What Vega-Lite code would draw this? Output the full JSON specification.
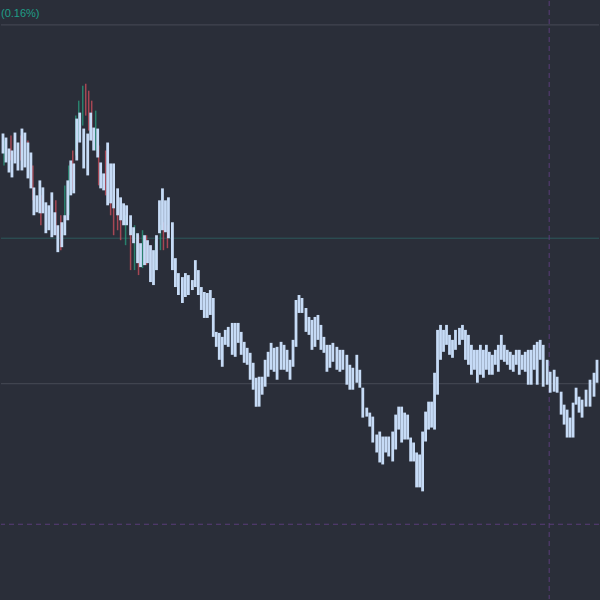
{
  "$schema": "https://vega.github.io/schema/vega-lite/v6.json",
  "autosize": {"type": "fit", "contains": "padding"},
  "width": 600,
  "height": 600,
  "padding": 0,
  "background": "#2a2e39",
  "config": {"view": {"stroke": null}, "axis": {"disable": true}},
  "datasets": {
    "bars": [
      {"t":2,"hi":133,"lo":153},{"t":5,"hi":137,"lo":162},{"t":8,"hi":148,"lo":172},{"t":11,"hi":150,"lo":177},{"t":14,"hi":132,"lo":163},{"t":17,"hi":142,"lo":170},{"t":21,"hi":128,"lo":170},{"t":24,"hi":132,"lo":167},{"t":27,"hi":142,"lo":178},{"t":30,"hi":152,"lo":188},
      {"t":33,"hi":187,"lo":215},{"t":36,"hi":195,"lo":212},{"t":39,"hi":180,"lo":213},{"t":42,"hi":187,"lo":213},{"t":45,"hi":202,"lo":233},{"t":48,"hi":205,"lo":230},{"t":51,"hi":192,"lo":237},{"t":54,"hi":212,"lo":235},{"t":57,"hi":225,"lo":252},{"t":61,"hi":222,"lo":247},
      {"t":64,"hi":215,"lo":235},{"t":67,"hi":180,"lo":220},{"t":70,"hi":160,"lo":195},{"t":73,"hi":163,"lo":193},{"t":76,"hi":118,"lo":160},{"t":79,"hi":112,"lo":142},{"t":83,"hi":128,"lo":168},{"t":87,"hi":133,"lo":175},{"t":90,"hi":112,"lo":140},{"t":93,"hi":127,"lo":150},
      {"t":97,"hi":128,"lo":157},{"t":100,"hi":162,"lo":188},{"t":103,"hi":173,"lo":190},{"t":107,"hi":142,"lo":205},{"t":110,"hi":163,"lo":203},{"t":113,"hi":163,"lo":208},{"t":117,"hi":188,"lo":215},{"t":120,"hi":197,"lo":220},{"t":123,"hi":203,"lo":225},{"t":126,"hi":205,"lo":225},
      {"t":130,"hi":215,"lo":235},{"t":133,"hi":227,"lo":243},{"t":137,"hi":233,"lo":263},{"t":140,"hi":243,"lo":267},{"t":144,"hi":235,"lo":265},{"t":147,"hi":240,"lo":263},{"t":150,"hi":245,"lo":282},{"t":153,"hi":250,"lo":285},{"t":156,"hi":235,"lo":270},{"t":159,"hi":200,"lo":233},
      {"t":162,"hi":188,"lo":230},{"t":165,"hi":200,"lo":232},{"t":168,"hi":197,"lo":238},{"t":172,"hi":222,"lo":270},{"t":175,"hi":258,"lo":287},{"t":178,"hi":273,"lo":295},{"t":182,"hi":277,"lo":303},{"t":185,"hi":273,"lo":297},{"t":188,"hi":275,"lo":295},{"t":192,"hi":280,"lo":290},
      {"t":195,"hi":260,"lo":287},{"t":198,"hi":270,"lo":295},{"t":201,"hi":287,"lo":310},{"t":204,"hi":292,"lo":318},{"t":207,"hi":293,"lo":318},{"t":210,"hi":290,"lo":315},{"t":213,"hi":298,"lo":337},{"t":216,"hi":332,"lo":347},{"t":219,"hi":333,"lo":360},{"t":222,"hi":337,"lo":367},
      {"t":225,"hi":330,"lo":345},{"t":228,"hi":327,"lo":347},{"t":232,"hi":323,"lo":355},{"t":235,"hi":323,"lo":357},{"t":238,"hi":323,"lo":343},{"t":241,"hi":332,"lo":355},{"t":244,"hi":342,"lo":363},{"t":247,"hi":348,"lo":365},{"t":250,"hi":353,"lo":380},{"t":253,"hi":363,"lo":390},
      {"t":256,"hi":378,"lo":407},{"t":259,"hi":377,"lo":407},{"t":262,"hi":377,"lo":395},{"t":265,"hi":360,"lo":387},{"t":268,"hi":352,"lo":377},{"t":271,"hi":343,"lo":370},{"t":274,"hi":348,"lo":372},{"t":277,"hi":347,"lo":380},{"t":281,"hi":342,"lo":370},{"t":284,"hi":345,"lo":370},
      {"t":287,"hi":350,"lo":372},{"t":290,"hi":360,"lo":380},{"t":293,"hi":340,"lo":367},{"t":296,"hi":300,"lo":347},{"t":299,"hi":295,"lo":313},{"t":302,"hi":298,"lo":313},{"t":306,"hi":308,"lo":332},{"t":309,"hi":317,"lo":335},{"t":312,"hi":320,"lo":350},{"t":315,"hi":317,"lo":347},
      {"t":318,"hi":315,"lo":340},{"t":321,"hi":325,"lo":350},{"t":324,"hi":337,"lo":353},{"t":327,"hi":345,"lo":372},{"t":330,"hi":345,"lo":368},{"t":333,"hi":343,"lo":362},{"t":337,"hi":347,"lo":370},{"t":340,"hi":350,"lo":372},{"t":343,"hi":350,"lo":370},{"t":347,"hi":355,"lo":385},
      {"t":350,"hi":365,"lo":390},{"t":353,"hi":368,"lo":390},{"t":357,"hi":355,"lo":383},{"t":360,"hi":370,"lo":388},{"t":363,"hi":388,"lo":418},{"t":367,"hi":408,"lo":417},{"t":370,"hi":413,"lo":427},{"t":373,"hi":417,"lo":443},{"t":377,"hi":435,"lo":453},{"t":380,"hi":432,"lo":463},
      {"t":383,"hi":437,"lo":465},{"t":386,"hi":437,"lo":453},{"t":389,"hi":437,"lo":457},{"t":393,"hi":432,"lo":462},{"t":396,"hi":415,"lo":450},{"t":399,"hi":407,"lo":430},{"t":402,"hi":407,"lo":443},{"t":405,"hi":413,"lo":440},{"t":408,"hi":415,"lo":440},{"t":411,"hi":438,"lo":462},
      {"t":414,"hi":443,"lo":462},{"t":417,"hi":453,"lo":488},{"t":420,"hi":455,"lo":488},{"t":423,"hi":432,"lo":492},{"t":426,"hi":412,"lo":442},{"t":429,"hi":402,"lo":430},{"t":432,"hi":402,"lo":428},{"t":435,"hi":373,"lo":430},{"t":438,"hi":330,"lo":395},{"t":441,"hi":325,"lo":360},
      {"t":444,"hi":330,"lo":352},{"t":447,"hi":325,"lo":345},{"t":450,"hi":335,"lo":355},{"t":453,"hi":340,"lo":358},{"t":456,"hi":330,"lo":350},{"t":460,"hi":328,"lo":345},{"t":463,"hi":325,"lo":340},{"t":466,"hi":330,"lo":360},{"t":469,"hi":335,"lo":365},{"t":472,"hi":345,"lo":375},
      {"t":475,"hi":350,"lo":370},{"t":478,"hi":350,"lo":383},{"t":481,"hi":345,"lo":375},{"t":484,"hi":350,"lo":378},{"t":487,"hi":345,"lo":370},{"t":490,"hi":352,"lo":375},{"t":493,"hi":355,"lo":375},{"t":496,"hi":350,"lo":365},{"t":499,"hi":345,"lo":372},{"t":502,"hi":335,"lo":360},
      {"t":505,"hi":345,"lo":362},{"t":508,"hi":350,"lo":365},{"t":511,"hi":352,"lo":370},{"t":514,"hi":355,"lo":372},{"t":517,"hi":350,"lo":365},{"t":520,"hi":350,"lo":375},{"t":523,"hi":355,"lo":370},{"t":526,"hi":352,"lo":372},{"t":529,"hi":350,"lo":385},{"t":532,"hi":350,"lo":385},
      {"t":535,"hi":345,"lo":370},{"t":538,"hi":342,"lo":385},{"t":541,"hi":340,"lo":360},{"t":544,"hi":345,"lo":387},{"t":548,"hi":360,"lo":385},{"t":551,"hi":372,"lo":393},{"t":555,"hi":370,"lo":392},{"t":558,"hi":377,"lo":393},{"t":562,"hi":392,"lo":415},{"t":565,"hi":405,"lo":425},
      {"t":568,"hi":410,"lo":438},{"t":571,"hi":418,"lo":438},{"t":574,"hi":403,"lo":438},{"t":577,"hi":388,"lo":405},{"t":580,"hi":397,"lo":413},{"t":583,"hi":400,"lo":418},{"t":587,"hi":390,"lo":407},{"t":591,"hi":380,"lo":407},{"t":595,"hi":373,"lo":397},{"t":598,"hi":360,"lo":383}
    ],
    "candles": [
      {"t":3,"hi":140,"lo":165,"dir":"up"},{"t":10,"hi":135,"lo":160,"dir":"down"},{"t":20,"hi":135,"lo":160,"dir":"down"},{"t":27,"hi":140,"lo":175,"dir":"down"},{"t":32,"hi":165,"lo":200,"dir":"down"},
      {"t":40,"hi":195,"lo":225,"dir":"down"},{"t":55,"hi":200,"lo":235,"dir":"down"},{"t":60,"hi":215,"lo":250,"dir":"down"},{"t":64,"hi":185,"lo":235,"dir":"up"},{"t":68,"hi":165,"lo":215,"dir":"up"},
      {"t":72,"hi":150,"lo":190,"dir":"down"},{"t":75,"hi":115,"lo":155,"dir":"up"},{"t":78,"hi":100,"lo":140,"dir":"up"},{"t":82,"hi":85,"lo":125,"dir":"up"},{"t":85,"hi":83,"lo":115,"dir":"down"},
      {"t":88,"hi":90,"lo":130,"dir":"down"},{"t":91,"hi":100,"lo":140,"dir":"down"},{"t":95,"hi":110,"lo":150,"dir":"up"},{"t":98,"hi":145,"lo":185,"dir":"down"},{"t":105,"hi":150,"lo":195,"dir":"down"},
      {"t":110,"hi":170,"lo":215,"dir":"down"},{"t":113,"hi":175,"lo":235,"dir":"down"},{"t":117,"hi":195,"lo":230,"dir":"down"},{"t":120,"hi":210,"lo":240,"dir":"down"},{"t":125,"hi":215,"lo":245,"dir":"up"},
      {"t":130,"hi":220,"lo":270,"dir":"down"},{"t":134,"hi":225,"lo":270,"dir":"up"},{"t":138,"hi":235,"lo":275,"dir":"down"},{"t":142,"hi":230,"lo":268,"dir":"up"},{"t":146,"hi":235,"lo":265,"dir":"down"},
      {"t":150,"hi":245,"lo":280,"dir":"down"},{"t":155,"hi":240,"lo":270,"dir":"up"},{"t":160,"hi":225,"lo":250,"dir":"up"},{"t":163,"hi":222,"lo":250,"dir":"down"},{"t":167,"hi":225,"lo":248,"dir":"down"}
    ]
  },
  "layer": [
    {
      "data": {"values": [{"y": 24}, {"y": 384}]},
      "mark": {"type": "rule", "color": "#474b57", "strokeWidth": 1},
      "encoding": {"y": {"field": "y", "type": "quantitative", "scale": {"domain": [0, 600], "reverse": true, "nice": false, "zero": false, "padding": 0}}}
    },
    {
      "data": {"values": [{"y": 238}]},
      "mark": {"type": "rule", "color": "#2d5a5c", "strokeWidth": 1},
      "encoding": {"y": {"field": "y", "type": "quantitative"}}
    },
    {
      "data": {"values": [{"y": 525}]},
      "mark": {"type": "rule", "color": "#5a3d7a", "strokeWidth": 1, "strokeDash": [5, 4]},
      "encoding": {"y": {"field": "y", "type": "quantitative"}}
    },
    {
      "data": {"values": [{"x": 550}]},
      "mark": {"type": "rule", "color": "#5a3d7a", "strokeWidth": 1, "strokeDash": [5, 4]},
      "encoding": {"x": {"field": "x", "type": "quantitative", "scale": {"domain": [0, 600], "nice": false, "zero": false, "padding": 0}}}
    },
    {
      "data": {"name": "candles"},
      "mark": {"type": "rule", "strokeWidth": 1.5, "opacity": 0.75, "clip": true},
      "encoding": {
        "x": {"field": "t", "type": "quantitative"},
        "y": {"field": "hi", "type": "quantitative"},
        "y2": {"field": "lo"},
        "color": {"field": "dir", "type": "nominal", "scale": {"domain": ["up", "down"], "range": ["#2a9d7f", "#d0505e"]}, "legend": null}
      }
    },
    {
      "data": {"name": "bars"},
      "mark": {"type": "bar", "width": 2.8, "color": "#c6dbf6", "clip": true},
      "encoding": {
        "x": {"field": "t", "type": "quantitative"},
        "y": {"field": "hi", "type": "quantitative"},
        "y2": {"field": "lo"}
      }
    },
    {
      "data": {"values": [{"x": 0, "y": 13, "label": "(0.16%)"}]},
      "mark": {"type": "text", "align": "left", "baseline": "middle", "font": "Liberation Sans", "fontSize": 11, "color": "#1f9e88"},
      "encoding": {
        "x": {"field": "x", "type": "quantitative"},
        "y": {"field": "y", "type": "quantitative"},
        "text": {"field": "label"}
      }
    }
  ],
  "resolve": {"scale": {"color": "independent"}}
}
